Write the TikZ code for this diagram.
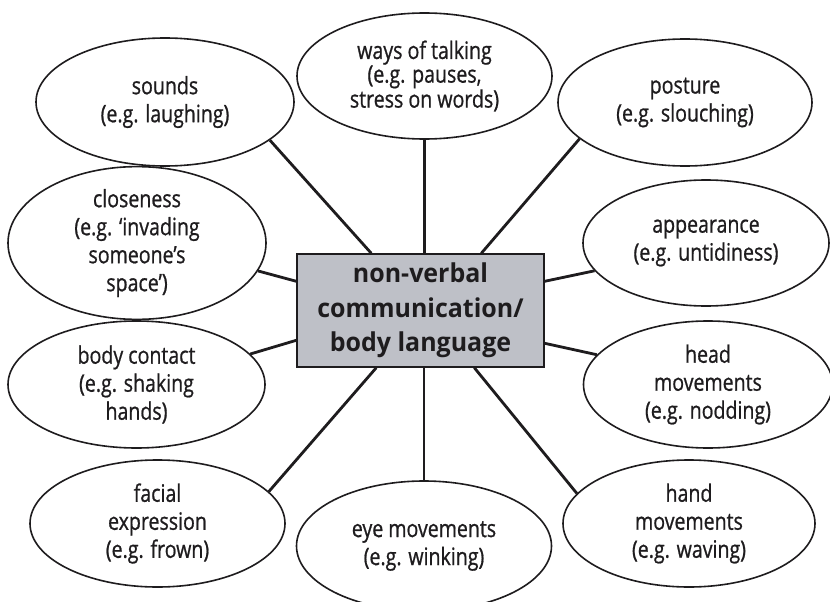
\documentclass[tikz,border=0pt]{standalone}
\usepackage{fontspec}
\setmainfont{Open Sans}[FakeStretch=0.815,FakeBold=0.8]
\newfontfamily\hubfont{Open Sans}[FakeStretch=0.96]
\usetikzlibrary{shapes.geometric,calc}
\definecolor{boxgray}{RGB}{190,192,199}
\definecolor{ink}{RGB}{30,28,30}
\begin{document}
\begin{tikzpicture}[x=1pt,y=-1pt,
  bub/.style={ellipse,draw=ink,line width=1.6pt,inner sep=0pt,align=center,
    text=ink,font=\fontsize{24}{28}\selectfont,
    execute at begin node={\rule{0pt}{23pt}}},
  tight/.style={font=\fontsize{24}{23.7}\selectfont,execute at begin node={}},
  hub/.style={rectangle,draw=ink,line width=1.4pt,fill=boxgray,inner sep=0pt,
    minimum width=247pt,minimum height=113pt,align=center,text=ink,
    font=\hubfont\bfseries\fontsize{26}{34.5}\selectfont},
  link/.style={draw=ink,line width=2.8pt}]
\useasboundingbox[fill=white] (0,0) rectangle (830,602);

\node[hub] (hub) at (420.5,310.5) {non-verbal\\communication/\\body language};

\node[bub,minimum width=258pt,minimum height=128pt] (sounds) at (165,102) {sounds\\(e.g. laughing)};
\node[bub,tight,minimum width=255pt,minimum height=126pt] (ways) at (424.5,76) {ways of talking\\(e.g. pauses,\\stress on words)};
\node[bub,minimum width=254pt,minimum height=127pt] (posture) at (685,102.5) {posture\\(e.g. slouching)};
\node[bub,minimum width=258pt,minimum height=126pt] (close) at (137,243) {closeness\\(e.g. ‘invading\\someone’s\\space’)};
\node[bub,minimum width=246pt,minimum height=126pt] (appear) at (706,243) {appearance\\(e.g. untidiness)};
\node[bub,minimum width=257pt,minimum height=127pt] (contact) at (136.5,384.5) {body contact\\(e.g. shaking\\hands)};
\node[bub,minimum width=249pt,minimum height=127pt] (head) at (708,384.5) {head\\movements\\(e.g. nodding)};
\node[bub,minimum width=255pt,minimum height=127pt] (facial) at (157.5,523.5) {facial\\expression\\(e.g. frown)};
\node[bub,minimum width=255pt,minimum height=130pt] (eye) at (424,546) {eye movements\\(e.g. winking)};
\node[bub,minimum width=252pt,minimum height=127pt] (hand) at (689,523.5) {hand\\movements\\(e.g. waving)};

\draw[link] (sounds.-20) -- ($(hub.north west)+(75,0)$);
\draw[link] (ways.south) -- (ways.south |- hub.north);
\draw[link] (posture.199.6) -- ($(hub.north west)+(185,0)$);
\draw[link] (close.-13.3) -- ($(hub.north west)+(0,28)$);
\draw[link] (appear.194.2) -- ($(hub.north east)+(0,28)$);
\draw[link] (contact.15.3) -- ($(hub.north west)+(0,87)$);
\draw[link] (head.165.8) -- ($(hub.north east)+(0,90)$);
\draw[link] (facial.16.7) -- ($(hub.south west)+(80,0)$);
\draw[link] (eye.north) -- (eye.north |- hub.south);
\draw[link] (hand.165.4) -- ($(hub.south west)+(178,0)$);
\end{tikzpicture}
\end{document}
